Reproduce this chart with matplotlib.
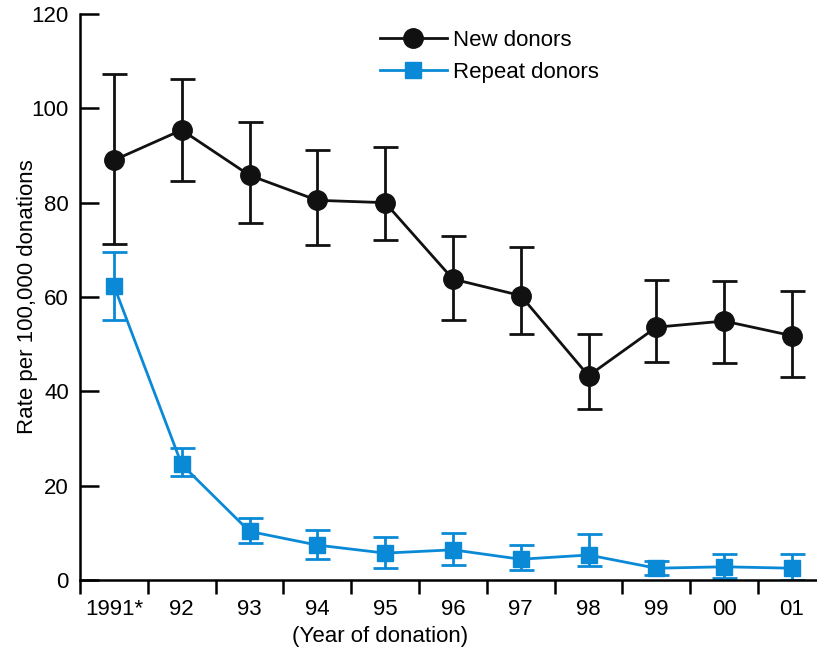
import numpy as np
import matplotlib
matplotlib.use("Agg")
import matplotlib.pyplot as plt

years = ["1991*", "92", "93", "94", "95", "96", "97", "98", "99", "00", "01"]

new_rate = [89.0, 95.4, 85.8, 80.5, 80.0, 63.8, 60.3, 43.3, 53.6, 54.9, 51.8]
new_hi = [107.2, 106.2, 97.0, 91.1, 91.7, 73.0, 70.6, 52.1, 63.6, 63.3, 61.3]
new_lo = [71.3, 84.5, 75.7, 71.1, 72.0, 55.1, 52.1, 36.3, 46.3, 46.1, 43.0]

rep_rate = [62.4, 24.5, 10.3, 7.4, 5.7, 6.4, 4.4, 5.3, 2.5, 2.8, 2.5]
rep_hi = [69.6, 28.0, 13.1, 10.6, 9.2, 9.9, 7.4, 9.8, 4.0, 5.5, 5.5]
rep_lo = [55.2, 22.0, 7.8, 4.4, 2.5, 3.2, 2.1, 3.0, 1.0, 0.5, 0.0]

black = '#111111'
blue = '#0a8ad6'
fs = 16

plt.rcParams['font.family'] = ['Liberation Sans', 'DejaVu Sans']

fig = plt.figure(figsize=(8.17, 6.52), dpi=100)
ax = fig.add_axes([80 / 817, 1 - 580 / 652, 1 - 80 / 817, (580 - 14) / 652])

x = np.arange(len(years))


def bars(vals, hi, lo):
    vals = np.array(vals)
    return [vals - np.array(lo), np.array(hi) - vals]


ax.errorbar(x, rep_rate, yerr=bars(rep_rate, rep_hi, rep_lo), fmt='none',
            ecolor=blue, elinewidth=2, capsize=9, capthick=2, zorder=2)
ax.plot(x, rep_rate, color=blue, lw=2, marker='s', ms=12,
        label='Repeat donors', zorder=3)

ax.errorbar(x, new_rate, yerr=bars(new_rate, new_hi, new_lo), fmt='none',
            ecolor=black, elinewidth=2, capsize=9, capthick=2, zorder=4)
ax.plot(x, new_rate, color=black, lw=2, marker='o', ms=14,
        label='New donors', zorder=5)

ax.set_xlim(-0.5, 10.37)
ax.set_ylim(0, 120)

ax.spines['top'].set_visible(False)
ax.spines['right'].set_visible(False)
ax.spines['left'].set_linewidth(1.8)
ax.spines['bottom'].set_linewidth(1.8)
ax.spines['left'].set_bounds(0, 120)

ax.set_yticks(np.arange(0, 121, 20))
ax.tick_params(axis='y', direction='in', length=14, width=1.8, labelsize=fs,
               pad=8)
ax.set_xticks(x)
ax.set_xticklabels(years)
ax.tick_params(axis='x', which='major', length=0, labelsize=fs, pad=14)
ax.set_xticks(np.arange(-0.5, 10, 1), minor=True)
ax.tick_params(axis='x', which='minor', direction='out', length=10, width=1.8)

ax.set_ylabel('Rate per 100,000 donations', fontsize=fs, va='center')
ax.yaxis.set_label_coords((28 - 80) / (817 - 80), 0.5)
ax.set_xlabel('(Year of donation)', fontsize=fs)
ax.xaxis.set_label_coords((380 - 80) / (817 - 80), -0.081)

h, l = ax.get_legend_handles_labels()
fig.legend(h[::-1], l[::-1], loc='upper left',
           bbox_to_anchor=(380 / 817, 1 - 30 / 652), frameon=False,
           fontsize=fs, handlelength=3.0, handletextpad=0.3,
           labelspacing=0.5, borderpad=0, borderaxespad=0)

fig.savefig('out.png', dpi=100)
